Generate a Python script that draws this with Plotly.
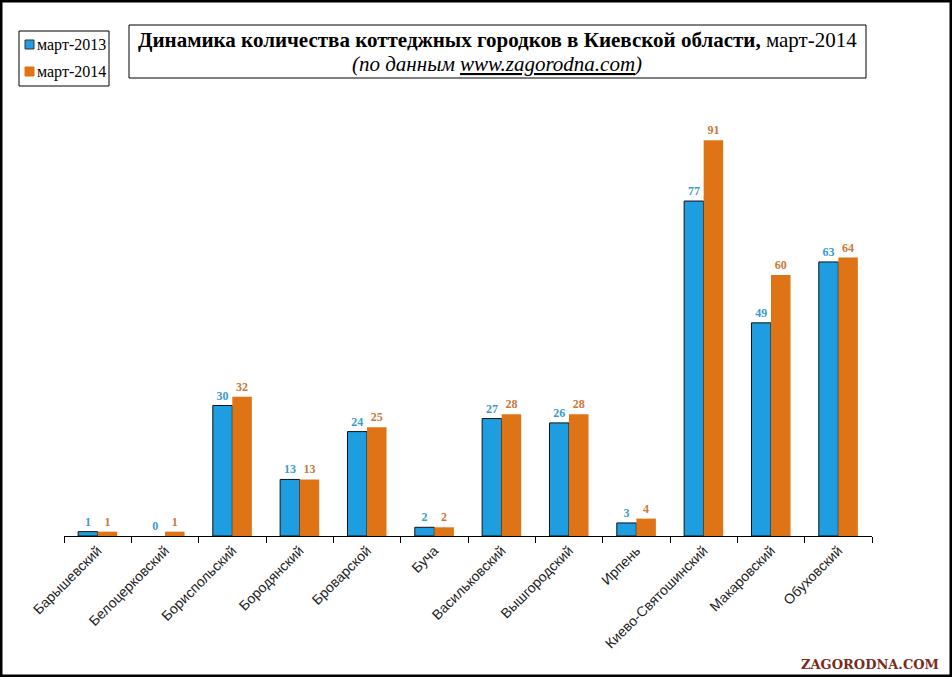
import plotly.graph_objects as go

categories = ["Барышевский", "Белоцерковский", "Бориспольский", "Бородянский",
              "Броварской", "Буча", "Васильковский", "Вышгородский", "Ирпень",
              "Киево-Святошинский", "Макаровский", "Обуховский"]
values_2013 = [1, 0, 30, 13, 24, 2, 27, 26, 3, 77, 49, 63]
values_2014 = [1, 1, 32, 13, 25, 2, 28, 28, 4, 91, 60, 64]
series_names = ["март-2013", "март-2014"]
series_colors = ["#1e9ee0", "#df7416"]

W, H = 952, 677
L, R, T, B = 64, 80, 101, 141
PW, PH = W - L - R, H - T - B

def px(x):
    return (x - L) / PW

def py(y):
    return (H - B - y) / PH

fig = go.Figure()
fig.add_trace(go.Bar(
    x=categories, y=values_2013, name=series_names[0],
    marker=dict(color=series_colors[0],
                line=dict(color="#111111", width=[1 if v > 0 else 0 for v in values_2013])),
    text=values_2013, textposition="outside", cliponaxis=False,
    textfont=dict(family="Liberation Serif", size=12, color="#3a9ccc"),
    texttemplate="<b>%{text}</b>",
))
fig.add_trace(go.Bar(
    x=categories, y=values_2014, name=series_names[1],
    marker=dict(color=series_colors[1], line=dict(color=series_colors[1], width=0)),
    text=values_2014, textposition="outside", cliponaxis=False,
    textfont=dict(family="Liberation Serif", size=12, color="#c8793a"),
    texttemplate="<b>%{text}</b>",
))

shapes = [
    # outer frame
    dict(type="rect", xref="paper", yref="paper",
         x0=px(1), x1=px(W - 1), y0=py(H - 1), y1=py(1),
         line=dict(color="#000000", width=3)),
    # title box
    dict(type="rect", xref="paper", yref="paper",
         x0=px(129), x1=px(866), y0=py(78), y1=py(25),
         line=dict(color="#000000", width=1)),
    # legend box
    dict(type="rect", xref="paper", yref="paper",
         x0=px(19), x1=px(109), y0=py(86), y1=py(31),
         line=dict(color="#000000", width=1), fillcolor="#ffffff"),
]
legend_rows = [45, 72]
for name, color, yc in zip(series_names, series_colors, legend_rows):
    shapes.append(dict(type="rect", xref="paper", yref="paper",
                       x0=px(25), x1=px(34), y0=py(yc + 4), y1=py(yc - 5),
                       line=dict(color="#333333" if color == series_colors[0] else color, width=1),
                       fillcolor=color))

annotations = [
    dict(xref="paper", yref="paper", x=px(497), y=py(40), xanchor="center", yanchor="middle",
         showarrow=False,
         text="<b>Динамика количества коттеджных городков в Киевской области,</b> март-2014",
         font=dict(family="Liberation Serif", size=21, color="#000000")),
    dict(xref="paper", yref="paper", x=px(497), y=py(64), xanchor="center", yanchor="middle",
         showarrow=False,
         text="<i>(по данным <span style='text-decoration:underline'>www.zagorodna.com</span>)</i>",
         font=dict(family="Liberation Serif", size=21, color="#000000")),
    dict(xref="paper", yref="paper", x=px(870), y=py(664), xanchor="center", yanchor="middle",
         showarrow=False, text="<b>ZAGORODNA.COM</b>",
         font=dict(family="DejaVu Serif", size=13, color="#7a2a1c")),
]
for name, yc in zip(series_names, legend_rows):
    annotations.append(dict(xref="paper", yref="paper", x=px(35), y=py(yc),
                            xanchor="left", yanchor="middle", showarrow=False,
                            text=name,
                            font=dict(family="Liberation Serif", size=16, color="#000000")))

fig.update_layout(
    width=W, height=H,
    margin=dict(l=L, r=R, t=T, b=B, pad=0),
    paper_bgcolor="#ffffff", plot_bgcolor="#ffffff",
    barmode="group", bargap=0.42, bargroupgap=0,
    showlegend=False,
    shapes=shapes, annotations=annotations,
    xaxis=dict(type="category", tickangle=-45, showgrid=False,
               showline=True, linecolor="#000000", linewidth=1,
               ticks="outside", tickson="boundaries", ticklen=6, tickcolor="#000000",
               tickfont=dict(family="Liberation Sans", size=14, color="#222222")),
    yaxis=dict(range=[0, 100], visible=False, showgrid=False, zeroline=False),
    font=dict(family="Liberation Serif"),
)

fig.write_html("out.html", config={"displayModeBar": False},
               post_script="document.body.style.margin='0';document.body.style.overflow='hidden';")
